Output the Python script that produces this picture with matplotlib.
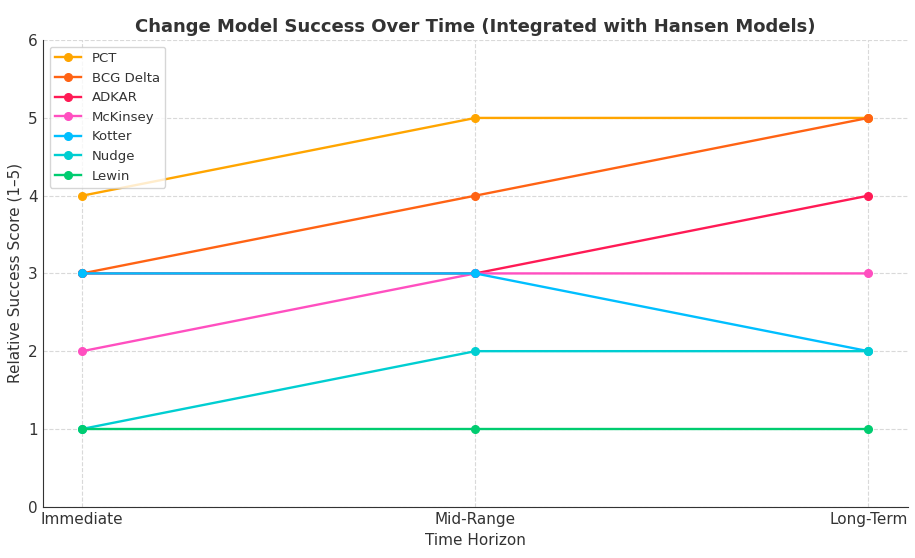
import matplotlib
matplotlib.use("Agg")
import matplotlib.pyplot as plt

TIME_HORIZONS = ["Immediate", "Mid-Range", "Long-Term"]

MODEL_NAMES = ["PCT", "BCG Delta", "ADKAR", "McKinsey", "Kotter", "Nudge", "Lewin"]
PCT = [4, 5, 5]
BCG_DELTA = [3, 4, 5]
ADKAR = [3, 3, 4]
MCKINSEY = [2, 3, 3]
KOTTER = [3, 3, 2]
NUDGE = [1, 2, 2]
LEWIN = [1, 1, 1]

COLORS = ["#FFA500", "#FF6314", "#FF1A55", "#FF4FC0", "#00BFFF", "#00CED1", "#00CC70"]

TEXT = "#333333"

fig, ax = plt.subplots(figsize=(9.15, 5.58), dpi=100)

series = [PCT, BCG_DELTA, ADKAR, MCKINSEY, KOTTER, NUDGE, LEWIN]
for name, vals, col in zip(MODEL_NAMES, series, COLORS):
    ax.plot(TIME_HORIZONS, vals, marker="o", markersize=5.5, linewidth=1.7,
            color=col, label=name)

ax.set_title("Change Model Success Over Time (Integrated with Hansen Models)",
             fontsize=13, fontweight="bold", color=TEXT)
ax.set_xlabel("Time Horizon", fontsize=11, color=TEXT)
ax.set_ylabel("Relative Success Score (1\u20135)", fontsize=11, color=TEXT)
ax.set_ylim(0, 6)
ax.set_yticks(range(0, 7))
ax.tick_params(axis="both", length=0, labelsize=11, colors=TEXT, pad=4)
ax.grid(True, linestyle="--", color="#d9d9d9", linewidth=0.8)
ax.set_axisbelow(True)
for side in ("top", "right"):
    ax.spines[side].set_visible(False)
for side in ("left", "bottom"):
    ax.spines[side].set_color(TEXT)

leg = ax.legend(loc="upper left", fontsize=9.5, frameon=True, labelcolor=TEXT)
leg.get_frame().set_edgecolor("#cccccc")

fig.subplots_adjust(left=0.047, right=0.992, top=0.928, bottom=0.092)
fig.savefig("out.png", dpi=100)
